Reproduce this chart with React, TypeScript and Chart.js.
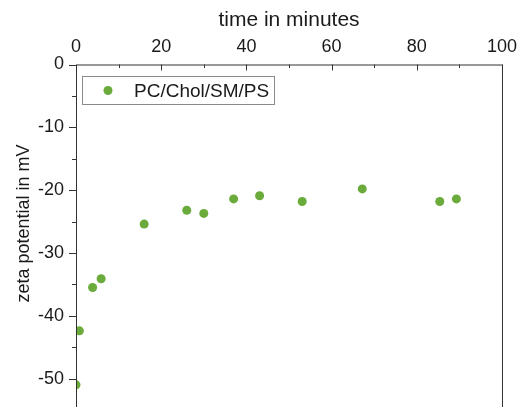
import React, { useEffect, useRef } from 'react';
import { Chart, registerables } from 'chart.js';

Chart.register(...registerables);

const timeMinutes = [0, 0.8, 3.9, 5.9, 16, 26, 30, 37, 43.1, 53.1, 67.2, 85.4, 89.3];
const zetaPotential = [-51.0, -42.4, -35.5, -34.1, -25.4, -23.2, -23.7, -21.4, -20.9, -21.8, -19.8, -21.8, -21.4];
const seriesLabel = 'PC/Chol/SM/PS';
const xTicks = [0, 20, 40, 60, 80, 100];
const xMinorTicks = [10, 30, 50, 70, 90];
const yTicks = [-50, -40, -30, -20, -10, 0];
const yMinorTicks = [-55, -45, -35, -25, -15, -5];
const xTitle = 'time in minutes';
const yTitle = 'zeta potential in mV';

const POINT_COLOR = '#6aab3b';
const AXIS_COLOR = '#333333';
const TEXT_COLOR = '#1a1a1a';
const FONT = '"Liberation Sans", Arial, sans-serif';

const framePlugin = {
  id: 'frame',
  afterDatasetsDraw(chart: any) {
    const { ctx, chartArea, scales } = chart;
    const xs = scales.x;
    const ys = scales.y;
    const { left, right, top, bottom } = chartArea;
    ctx.save();
    ctx.strokeStyle = AXIS_COLOR;
    ctx.lineWidth = 1;
    ctx.beginPath();
    ctx.moveTo(left + 0.5, bottom);
    ctx.lineTo(left + 0.5, top + 0.5);
    ctx.lineTo(right + 0.5, top + 0.5);
    ctx.lineTo(right + 0.5, bottom);
    ctx.stroke();
    ctx.beginPath();
    xTicks.forEach((v) => {
      const px = Math.round(xs.getPixelForValue(v)) + 0.5;
      ctx.moveTo(px, top);
      ctx.lineTo(px, top + 6);
    });
    xMinorTicks.forEach((v) => {
      const px = Math.round(xs.getPixelForValue(v)) + 0.5;
      ctx.moveTo(px, top);
      ctx.lineTo(px, top + 3.5);
    });
    yTicks.forEach((v) => {
      const py = Math.round(ys.getPixelForValue(v)) + 0.5;
      ctx.moveTo(left, py);
      ctx.lineTo(left - 7, py);
    });
    yMinorTicks.forEach((v) => {
      const py = Math.round(ys.getPixelForValue(v)) + 0.5;
      ctx.moveTo(left, py);
      ctx.lineTo(left - 4, py);
    });
    ctx.stroke();

    const bx = 82.5, by = 76.5, bw = 192, bh = 28;
    ctx.fillStyle = '#ffffff';
    ctx.fillRect(bx, by, bw, bh);
    ctx.strokeStyle = '#8a8a8a';
    ctx.strokeRect(bx, by, bw, bh);
    ctx.fillStyle = POINT_COLOR;
    ctx.beginPath();
    ctx.arc(108, by + bh / 2, 4.5, 0, Math.PI * 2);
    ctx.fill();
    ctx.fillStyle = TEXT_COLOR;
    ctx.font = `19px ${FONT}`;
    ctx.textBaseline = 'middle';
    ctx.textAlign = 'left';
    ctx.fillText(seriesLabel, 134, by + bh / 2 + 1);

    ctx.save();
    ctx.translate(24, 223.5);
    ctx.rotate(-Math.PI / 2);
    ctx.textAlign = 'center';
    ctx.textBaseline = 'middle';
    ctx.font = `18px ${FONT}`;
    ctx.fillText(yTitle, 0, 0);
    ctx.restore();
    ctx.restore();
  },
};

export default function App() {
  const canvasRef = useRef<HTMLCanvasElement | null>(null);

  useEffect(() => {
    const canvas = canvasRef.current;
    if (!canvas) return;
    const chart = new Chart(canvas, {
      type: 'scatter',
      data: {
        datasets: [
          {
            label: seriesLabel,
            data: timeMinutes.map((t, i) => ({ x: t, y: zetaPotential[i] })),
            backgroundColor: POINT_COLOR,
            borderColor: POINT_COLOR,
            pointRadius: 4.5,
            pointHoverRadius: 4.5,
            borderWidth: 0,
          },
        ],
      },
      options: {
        responsive: false,
        animation: false,
        devicePixelRatio: 1,
        layout: { padding: { left: 0, top: 0, right: 21, bottom: 30 } },
        plugins: {
          legend: { display: false },
          tooltip: { enabled: false },
        },
        scales: {
          x: {
            type: 'linear',
            position: 'top',
            min: 0,
            max: 100,
            afterBuildTicks: (scale: any) => {
              scale.ticks = xTicks.map((v) => ({ value: v }));
            },
            afterFit: (scale: any) => {
              scale.height = 64.5;
            },
            grid: { display: false, drawTicks: false },
            border: { display: false },
            ticks: {
              padding: 7,
              color: TEXT_COLOR,
              font: { family: FONT, size: 18 },
              maxRotation: 0,
            },
            title: {
              display: true,
              text: xTitle,
              color: TEXT_COLOR,
              font: { family: FONT, size: 21 },
              padding: { top: 8, bottom: 0 },
            },
          },
          y: {
            type: 'linear',
            min: -55,
            max: 0,
            afterBuildTicks: (scale: any) => {
              scale.ticks = yTicks.map((v) => ({ value: v }));
            },
            afterFit: (scale: any) => {
              scale.width = 76;
            },
            grid: { display: false, drawTicks: false },
            border: { display: false },
            ticks: {
              padding: 12,
              color: TEXT_COLOR,
              font: { family: FONT, size: 18 },
            },
          },
        },
      },
      plugins: [framePlugin],
    });
    return () => chart.destroy();
  }, []);

  return (
    <div style={{ position: 'absolute', left: 0, top: 0, width: 524, height: 440, background: '#fff' }}>
      <canvas ref={canvasRef} width={524} height={440} style={{ display: 'block' }} />
    </div>
  );
}
